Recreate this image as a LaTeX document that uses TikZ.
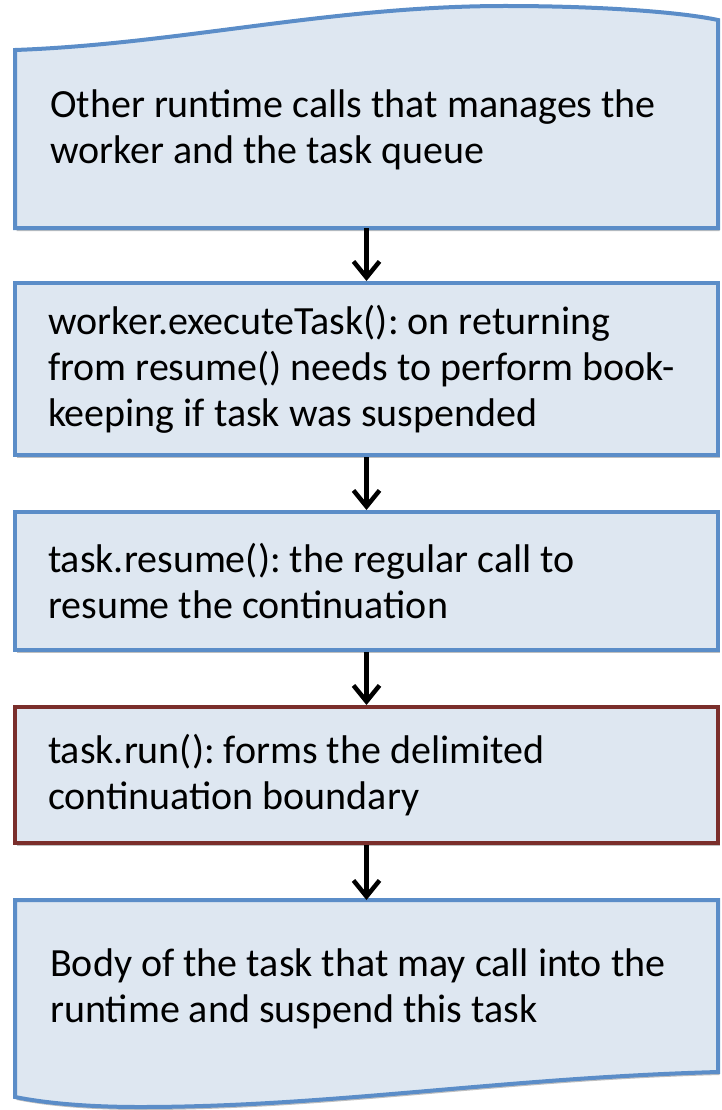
\documentclass[tikz,border=0pt]{standalone}
\usepackage{fontspec}
\setmainfont{Carlito}
\usetikzlibrary{arrows.meta,positioning,shadows}
\definecolor{boxfill}{HTML}{DEE7F1}
\definecolor{boxline}{HTML}{5B8DC8}
\definecolor{runline}{HTML}{7A2E2B}
\tikzset{
	boxshade/.style={drop shadow={shadow xshift=1.5pt,shadow yshift=-3pt,opacity=0.25,fill=black}},
	stepbox/.style={draw=boxline,fill=boxfill,line width=4pt,boxshade,minimum width=703pt,inner xsep=33pt,text width=637pt,align=flush left,font=\fontsize{40}{46}\selectfont\frenchspacing},
	wavybox/.style={draw=boxline,fill=boxfill,line width=4pt,boxshade},
	boxtext/.style={anchor=west,align=flush left,inner sep=0pt,font=\fontsize{40}{46}\selectfont\frenchspacing},
	flow/.style={line width=4.5pt,-{Straight Barb[length=16pt,width=26pt]}}
}
\begin{document}
\begin{tikzpicture}[x=1pt,y=-1pt]
	\useasboundingbox (0,0) rectangle (721,1110);
	% top box with wavy upper edge
	\draw [wavybox] (15,228) -- (15,50) .. controls (180,44) and (330,6) .. (505,6) .. controls (600,6) and (680,12) .. (718,20) -- (718,228) -- cycle;
	\node [boxtext] (runtime) at (50,130) {Other runtime calls that manages the\\worker and the task queue};
	\coordinate (runtimefoot) at (366.5,228);
	% middle boxes
	\node [stepbox,minimum height=172pt] (exec) at (366.5,369) {worker.executeTask(): on returning\\from resume() needs to perform book-\\keeping if task was suspended};
	\node [stepbox,minimum height=138pt] (resume) at (366.5,581) {task.resume(): the regular call to\\resume the continuation};
	\node [stepbox,draw=runline,minimum height=136pt] (run) at (366.5,775) {task.run(): forms the delimited\\continuation boundary};
	% bottom box with wavy lower edge
	\draw [wavybox] (15,900) -- (718,900) -- (718,1072) .. controls (500,1078) and (330,1107) .. (140,1107) .. controls (80,1107) and (40,1102) .. (15,1097) -- cycle;
	\node [boxtext] (body) at (50,989) {Body of the task that may call into the\\runtime and suspend this task};
	\coordinate (bodyhead) at (366.5,900);
	% arrows
	\draw [flow] (runtimefoot) -- (exec.north);
	\draw [flow] (exec.south) -- (resume.north);
	\draw [flow] (resume.south) -- (run.north);
	\draw [flow] (run.south) -- (bodyhead);
\end{tikzpicture}
\end{document}
